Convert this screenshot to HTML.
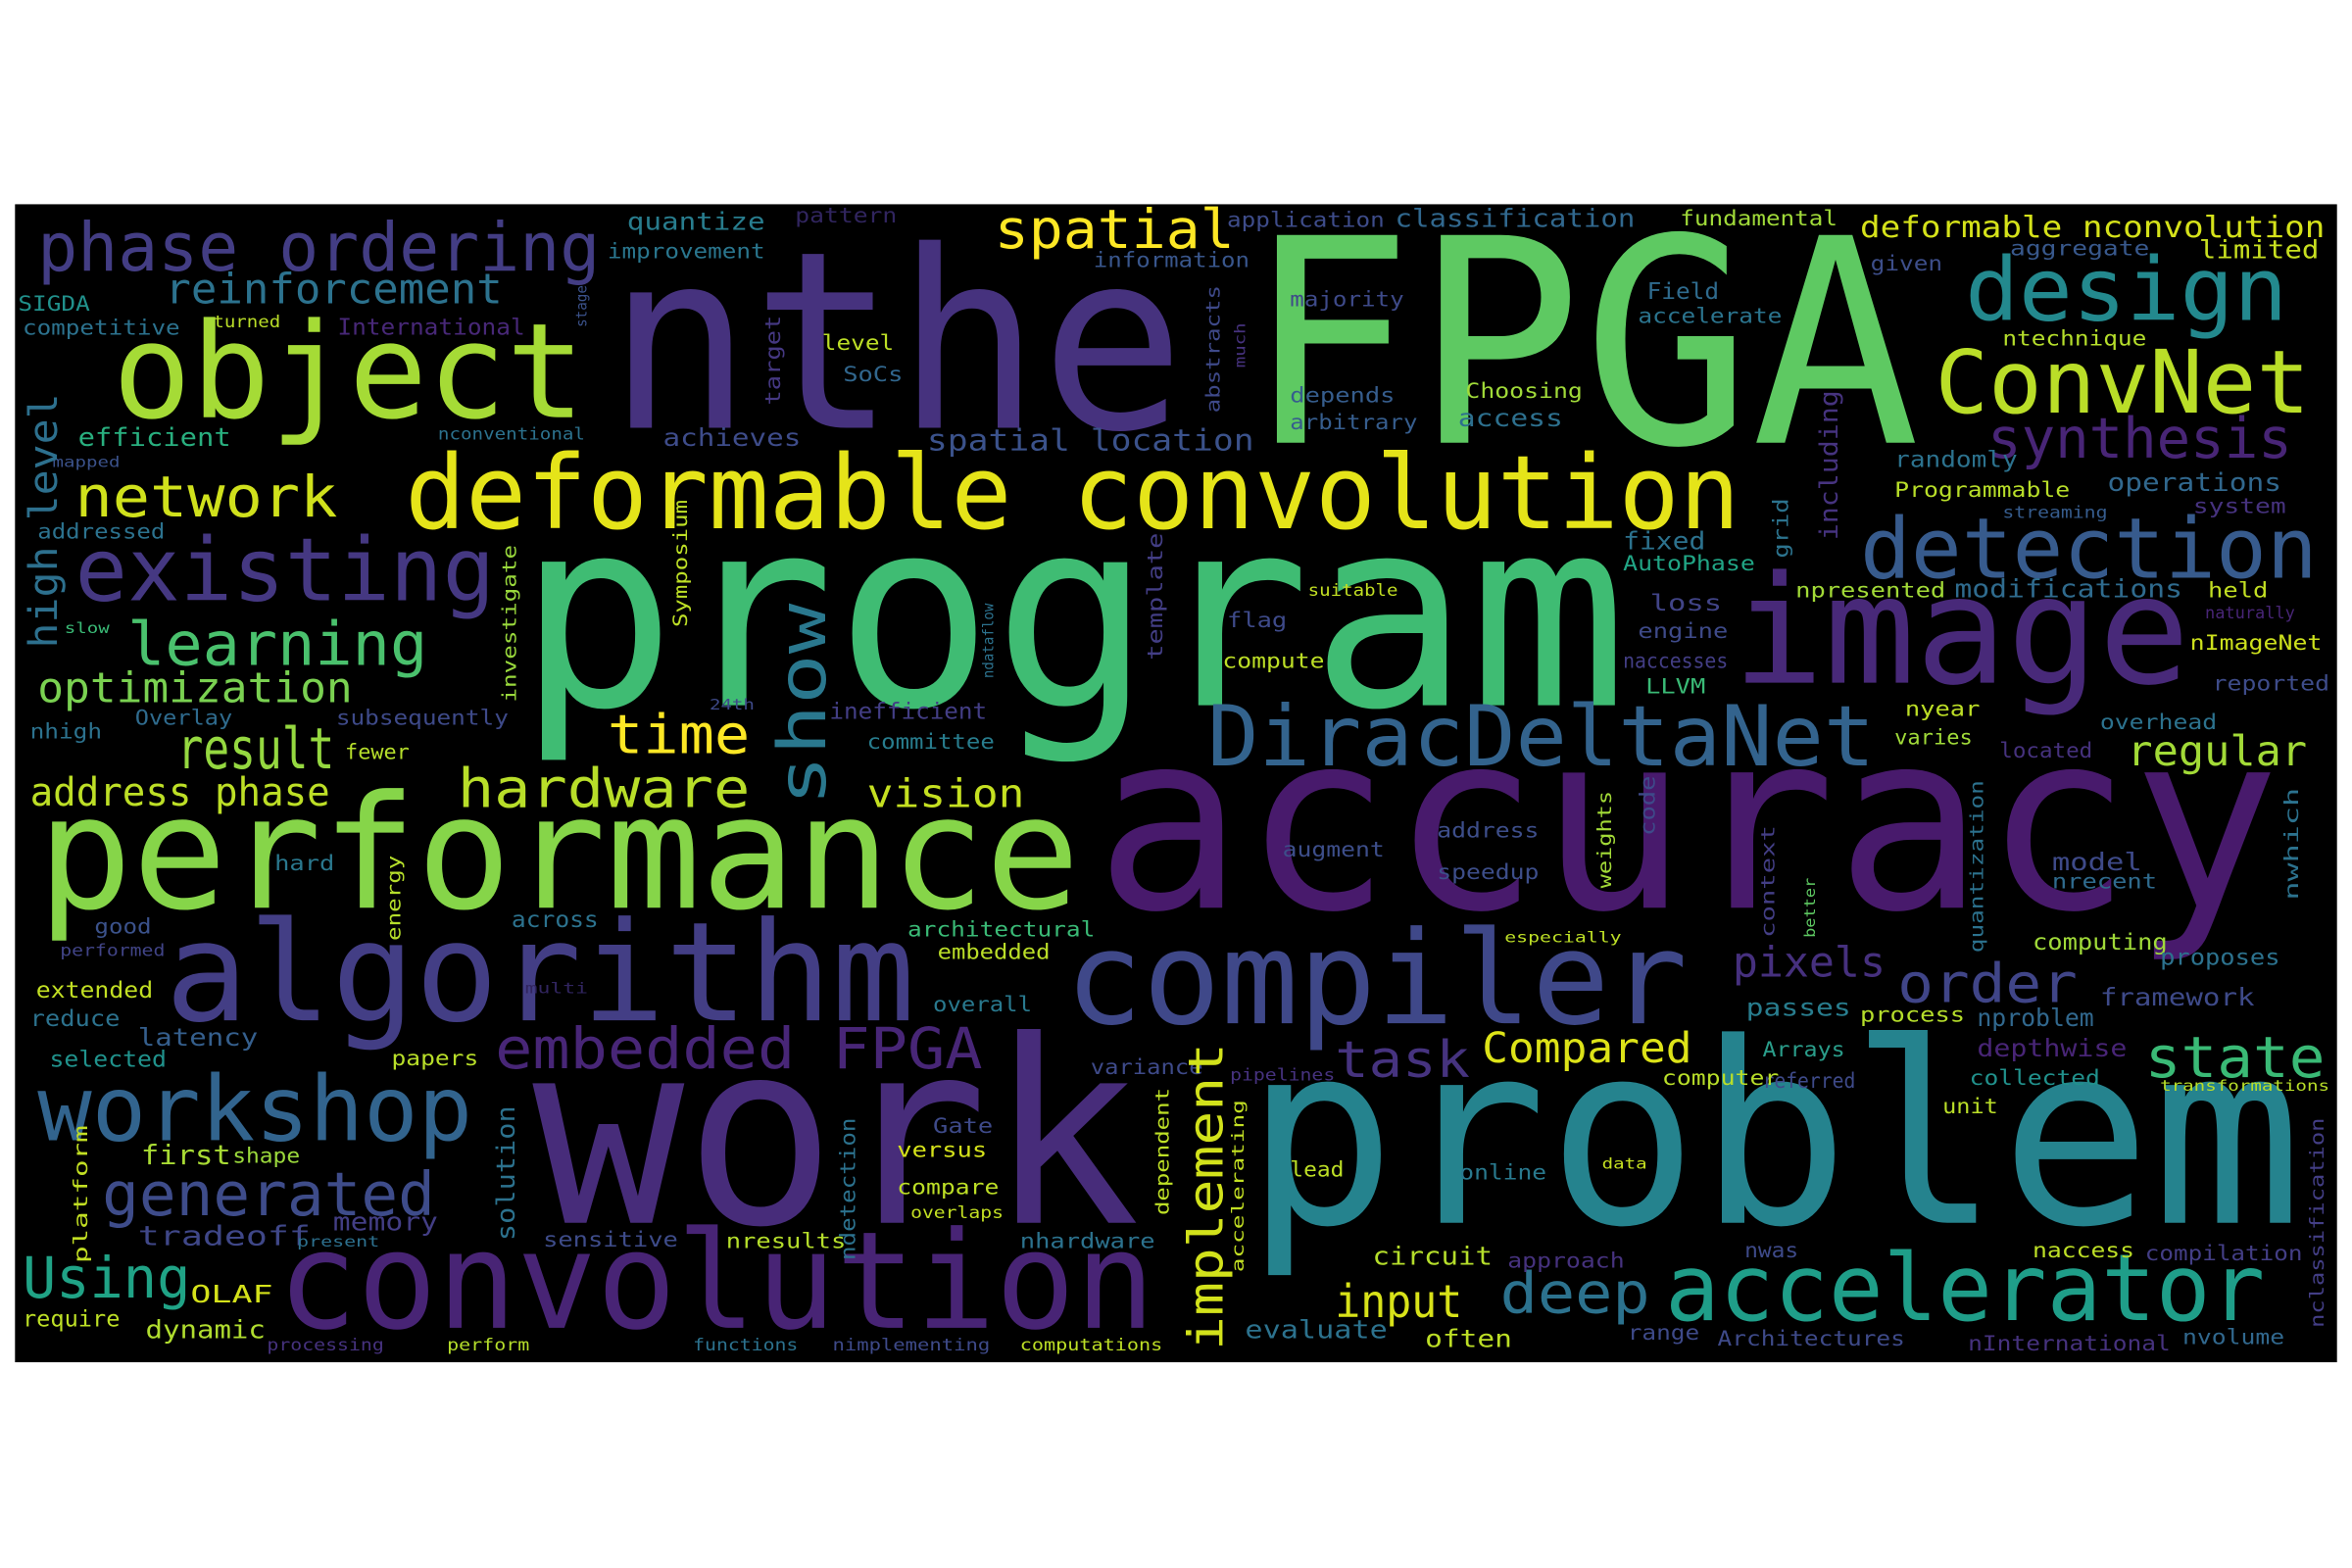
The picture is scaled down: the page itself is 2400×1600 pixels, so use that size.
<!DOCTYPE html>
<html><head><meta charset="utf-8"><title>Word cloud</title>
<style>
html,body{margin:0;padding:0;background:#fff;}
svg{display:block;}
text{font-family:"DejaVu Sans Mono","Liberation Mono",monospace;}
</style></head>
<body>
<svg id="cloud" width="2400" height="1600" viewBox="0 0 1568 1045" xmlns="http://www.w3.org/2000/svg">
<rect x="10" y="136" width="1548" height="772" fill="#000"/>
<g id="words"></g>
</svg>
<script>
// word, font size (frequency weight), color
const words = ["nthe","FPGA","program","accuracy","work","problem","convolution","performance","algorithm","compiler","image","object","deformable convolution","accelerator","workshop","DiracDeltaNet","detection","existing","design","ConvNet","phase ordering","generated","Using","synthesis","embedded FPGA","hardware","network","learning","result","time","state","order","deep","input","task","Compared","spatial","optimization","reinforcement","address phase","pixels","regular","vision","spatial location","deformable nconvolution","classification","application","fundamental","first","shape","tradeoff","memory","OLAF","require","dynamic","latency","reduce","extended","selected","papers","good","hard","performed","across","efficient","competitive","SIGDA","International","turned","quantize","improvement","pattern","information","majority","Field","accelerate","given","aggregate","limited","ntechnique","level","SoCs","nconventional","achieves","depends","arbitrary","Choosing","access","randomly","Programmable","operations","streaming","system","fixed","AutoPhase","npresented","modifications","held","loss","engine","naccesses","naturally","nImageNet","LLVM","reported","nyear","varies","overhead","located","flag","compute","suitable","inefficient","committee","24th","subsequently","Overlay","nhigh","fewer","slow","addressed","mapped","multi","overall","architectural","embedded","augment","address","speedup","especially","model","nrecent","computing","proposes","passes","process","nproblem","framework","Arrays","depthwise","referred","collected","transformations","unit","computer","variance","pipelines","Gate","versus","compare","overlaps","nresults","sensitive","present","nhardware","lead","online","data","circuit","approach","nwas","naccess","compilation","evaluate","often","range","Architectures","nInternational","nvolume","processing","perform","functions","nimplementing","computations",
"implement","show","high level","target","abstracts","much","stage","including","grid","template","ndataflow","Symposium","investigate","energy","weights","code","context","better","quantization","nwhich","accelerating","dependent","ndetection","solution","platform","nclassification"];
const sizes = [165,190,175,165,170,168,90,105,92,86,100,88,68,62,60,56,56,58,58,58,45,40,38,37,38,36,38,40,38,36,38,36,38,30,34,28,36,28,28,26,28,28,26,20,20,17,14,14,18,14,18,17,16,15,17,16,15,15,15,14,14,14,11,15,17,14,14,15,11,16,14,14,14,14,15,14,14,14,17,14,14,14,11,16,14,14,14,16,15,14,17,11,14,16,14,14,17,14,15,14,14,11,14,14,14,14,14,14,14,14,14,11,15,14,10,14,14,14,14,10,14,10,10,14,14,14,14,14,14,10,16,14,15,15,16,14,16,16,14,16,14,14,10,14,14,14,11,14,14,14,11,14,14,10,14,14,14,10,17,14,14,14,14,17,16,14,14,14,14,11,11,11,11,11,
32,44,26,14,13,10,10,17,14,14,10,13,13,13,13,14,12,10,12,13,11,12,14,17,13,13];
const colors = ["#46327e","#5ec962","#3fbc73","#481a6c","#472c7a","#25838e","#482475","#86d549","#433e85","#3f4889","#482979","#a5db36","#e5e419","#1f9e89","#32648e","#33638d","#375b8d","#453882","#23898e","#bade28","#433d84","#3e4c8a","#20a386","#482576","#482677","#b8de29","#d0e11c","#4ac16d","#95d840","#fde725","#3aba76","#404588","#2c728e","#d8e219","#46337f","#dde318","#fde725","#7ad151","#2c728e","#bddf26","#46307e","#a2da37","#c5e021","#3b528b","#d5e21a","#31688e","#3e4c8a","#a0da39","#a8db34","#9bd93c","#3f4788","#433e85","#d5e21a","#bddf26","#b0dd2f","#355f8d","#2c728e","#c2df23","#20928c","#b8de29","#3b528b","#2a788e","#414487","#2c728e","#29af7f","#2c728e","#21918c","#482878","#bade28","#287d8e","#2a768e","#31255f","#39568c","#3e4a89","#2f6b8e","#2b748e","#3d4e8a","#38588c","#c8e020","#b5de2b","#bddf26","#31678e","#2c728e","#3e4c8a","#365d8d","#365d8d","#a0da39","#2d708e","#2c728e","#b8de29","#31688e","#365c8d","#46327e","#2c728e","#21a585","#a2da37","#2f6b8e","#c2df23","#414487","#3e4a89","#433e85","#482576","#cde11d","#3aba76","#3e4c8a","#bddf26","#a0da39","#2c728e","#46327e","#3e4a89","#bddf26","#c2df23","#433e85","#287d8e","#3e4a89","#3e4a89","#2f6b8e","#2c728e","#b5de2b","#3aba76","#2c728e","#3b528b","#31255f","#29798e","#3aba76","#bade28","#3d4e8a","#3d4e8a","#3d4e8a","#bddf26","#3e4a89","#2f6b8e","#a0da39","#2c728e","#287d8e","#b5de2b","#31688e","#3e4a89","#2a9d8a","#482576","#3e4a89","#21918c","#b8de29","#bade28","#b8de29","#3e4a89","#46327e","#3e4a89","#d5e21a","#bddf26","#c2df23","#b5de2b","#3e4c8a","#2d708e","#2c728e","#bddf26","#29798e","#c5e021","#b5de2b","#46327e","#3e4a89","#bddf26","#433e85","#2c728e","#bddf26","#3e4a89","#3e4a89","#46327e","#31688e","#46327e","#b5de2b","#2c728e","#3e4a89","#bddf26",
"#d2e21b","#2a788e","#2d708e","#453882","#3e4989","#46327e","#3b528b","#46337f","#2c738e","#433e85","#2c728e","#bddf26","#99d83c","#b5de2b","#a2da37","#3e4a89","#433e85","#5ec962","#2c728e","#2c728e","#c2df23","#bddf26","#2c728e","#2c728e","#c2df23","#433e85"];
// layout (placement from the cloud generator): left x, baseline y, rendered length, rotation
const layoutX = [405,830,345,730,355,830,185,25,110,710,1155,75,270,1110,25,805,1240,50,1310,1290,25,68,15,1325,330,305,50,85,118,405,1430,1265,1000,890,890,988,663,25,110,20,1155,1418,578,618,1240,930,818,1120,94,155,92,222,127,15,97,92,20,24,33,261,63,183,40,341,52,15,12,225,142,418,405,530,729,860,1098,1092,1247,1340,1466,1335,548,562,292,442,860,860,977,972,1263,1263,1405,1335,1462,1082,1082,1197,1303,1472,1100,1092,1082,1470,1460,1097,1475,1270,1263,1400,1333,818,815,872,553,578,473,224,90,20,230,43,25,35,350,622,605,625,855,958,958,1003,1368,1368,1355,1440,1164,1240,1318,1400,1175,1318,1175,1313,1440,1295,1108,727,820,622,598,598,607,484,362,198,680,860,973,1068,915,1005,1163,1355,1430,830,950,1085,1145,1312,1455,178,298,462,555,680,
815,550,38,520,813,830,391,1225,1192,775,662,458,344,267,1074,1103,1183,1210,1322,1532,829,779,570,343,58,1549];
const layoutY = [285,295,470,605,815,815,885,605,680,682,455,278,352,880,760,510,385,400,213,275,180,810,865,305,712,538,344,443,512,502,718,668,875,878,718,708,165,468,202,537,651,510,538,300,158,151,151,150,776,775,830,820,868,884,892,697,684,665,711,710,622,580,637,618,297,223,207,223,218,153,172,148,178,204,199,215,180,170,172,230,233,254,293,297,268,286,265,284,311,331,327,345,342,366,380,398,398,398,407,425,445,412,433,462,460,477,496,486,505,418,445,397,479,499,473,483,483,492,506,422,359,311,662,674,624,639,571,558,586,628,580,592,633,643,677,681,684,670,704,704,725,723,727,742,723,716,720,755,771,796,812,832,831,831,832,784,786,779,843,845,838,838,840,892,898,893,897,900,896,900,900,900,900,900,
900,537,432,270,275,245,218,360,372,440,452,418,468,627,592,557,625,625,635,600,848,810,840,827,842,885];
const layoutLen = [385,450,740,790,405,705,585,695,500,415,305,315,890,400,290,445,305,280,215,250,375,222,112,203,325,195,175,200,105,95,120,120,100,85,90,140,160,210,225,200,102,120,105,218,310,160,105,105,60,45,115,70,55,65,80,80,60,78,78,58,38,40,70,58,102,105,48,125,45,92,105,68,104,76,48,96,48,93,80,96,48,40,98,92,70,85,78,70,82,117,116,70,62,55,88,100,152,40,48,60,70,60,88,40,78,50,52,78,62,40,68,60,105,85,30,115,65,48,43,30,85,45,42,66,125,75,68,68,68,78,60,70,90,80,70,70,78,103,55,100,62,87,113,37,78,75,70,40,60,68,62,80,90,55,90,36,58,30,80,78,36,68,105,95,58,48,125,135,68,78,55,70,105,95,
205,135,170,60,85,30,28,100,40,85,50,85,105,57,65,40,75,40,115,75,115,85,95,90,92,140];
const nHoriz = words.indexOf("implement");

const g = document.getElementById('words');
const NS = 'http://www.w3.org/2000/svg';
for (let i = 0; i < words.length; i++) {
  const t = document.createElementNS(NS, 'text');
  t.textContent = words[i];
  t.setAttribute('font-size', sizes[i]);
  t.setAttribute('fill', colors[i]);
  t.setAttribute('x', layoutX[i]);
  t.setAttribute('y', layoutY[i]);
  t.setAttribute('textLength', layoutLen[i]);
  t.setAttribute('lengthAdjust', 'spacingAndGlyphs');
  if (i >= nHoriz) {
    t.setAttribute('transform', 'rotate(-90 ' + layoutX[i] + ' ' + layoutY[i] + ')');
  }
  
  
  g.appendChild(t);
}
</script>
</body></html>
